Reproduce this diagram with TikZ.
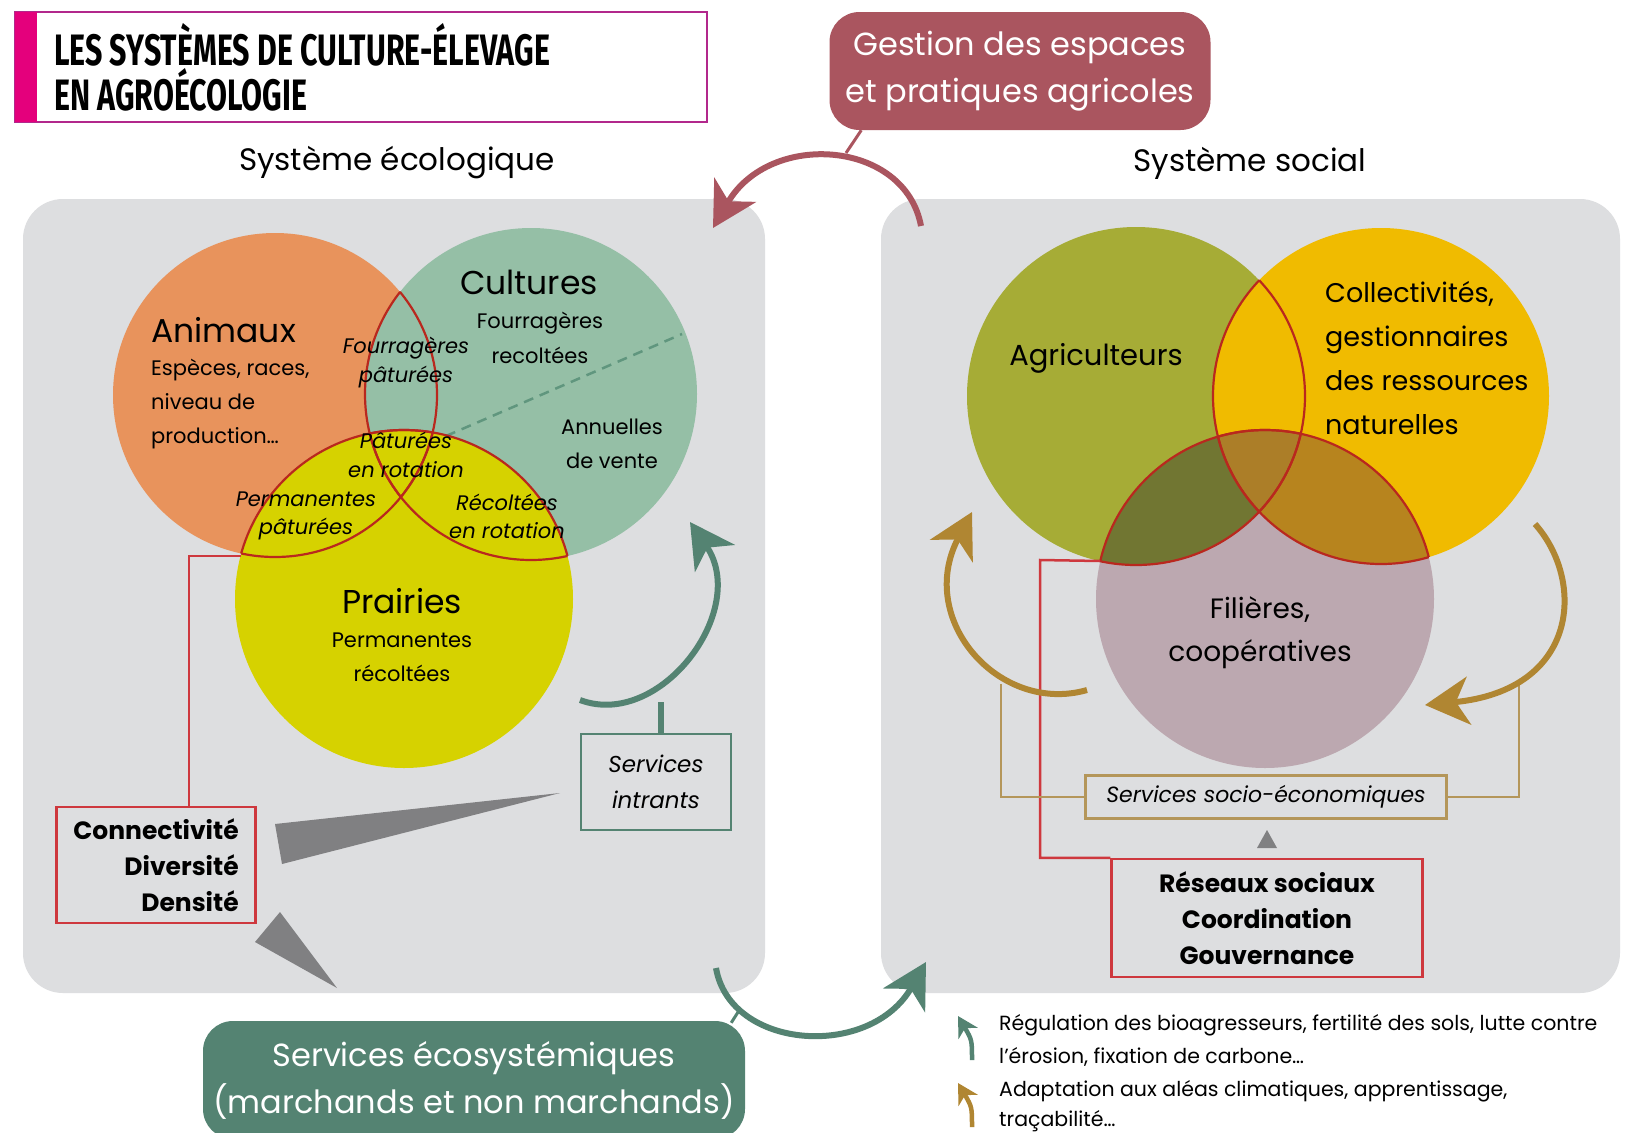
\documentclass[tikz,border=0pt]{standalone}
\usepackage{fontspec}
\setmainfont{Poppins}
\newfontfamily\titlefont[FakeStretch=0.69]{Fira Sans}
\usetikzlibrary{arrows.meta}

\definecolor{panelgray}{RGB}{221,222,224}
\definecolor{animorange}{RGB}{232,147,92}
\definecolor{cultgreen}{RGB}{149,191,166}
\definecolor{cultdash}{RGB}{96,150,126}
\definecolor{prairyellow}{RGB}{214,210,0}
\definecolor{agriolive}{RGB}{166,172,54}
\definecolor{collyellow}{RGB}{240,187,0}
\definecolor{filmauve}{RGB}{188,168,176}
\definecolor{agrifil}{RGB}{113,118,50}
\definecolor{collfil}{RGB}{183,132,30}
\definecolor{troisfil}{RGB}{172,126,40}
\definecolor{vennred}{RGB}{185,40,30}
\definecolor{boxred}{RGB}{206,56,62}
\definecolor{ecoteal}{RGB}{84,131,114}
\definecolor{gestrose}{RGB}{170,85,95}
\definecolor{socgold}{RGB}{176,134,50}
\definecolor{socbox}{RGB}{180,150,90}
\definecolor{wedgegray}{RGB}{128,128,130}
\definecolor{titremag}{RGB}{228,0,124}
\definecolor{titreborder}{RGB}{178,40,140}

\newcommand{\fsz}[2]{\fontsize{#1}{#2}\selectfont}

\tikzset{
  panel/.style={fill=panelgray, rounded corners=40pt},
  vennline/.style={draw=vennred, line width=2.2pt},
  head/.style={font=\fsz{33}{40}, inner sep=0pt},
  txt/.style={font=\fsz{21}{34}, inner sep=0pt, align=center},
  ital/.style={font=\fsz{21}{29}\itshape, inner sep=0pt, align=center},
  soustitre/.style={font=\fsz{31}{36}, inner sep=0pt},
  bubble/.style={rounded corners=30pt, text=white, font=\fsz{32}{47}, align=center, inner sep=0pt},
  redbox/.style={draw=boxred, line width=2.5pt, fill=panelgray, inner sep=0pt},
  bigarrow/.style={line width=6pt, -{Stealth[length=44pt, width=48pt, inset=13pt]}},
  smallarrow/.style={line width=4.5pt, -{Stealth[length=20pt, width=22pt, inset=6pt]}},
}

\begin{document}
\begin{tikzpicture}[x=1pt, y=-1pt]
  \useasboundingbox (0,0) rectangle (1626,1133);
  \clip (0,0) rectangle (1626,1133);
  \fill[white] (0,0) rectangle (1626,1133);

  % titre
  \draw[titreborder, line width=2pt, fill=white] (15,12) rectangle (707,122);
  \fill[titremag] (15,12) rectangle (37,122);
  \node[anchor=west, align=left, inner sep=0pt, font=\titlefont\bfseries\fsz{44}{45}] (titre) at (54,67)
    {LES SYSTÈMES DE CULTURE-ÉLEVAGE\\EN AGROÉCOLOGIE};

  % panneaux
  \fill[panel] (23,199) rectangle (765,993);
  \fill[panel] (881,199) rectangle (1620,993);
  \node[soustitre] (syseco) at (397,163) {Système écologique};
  \node[soustitre] (syssoc) at (1250,163) {Système social};

  % systeme ecologique
  \coordinate (anim) at (275,395);
  \coordinate (cult) at (531,394);
  \coordinate (prai) at (404,599);
  \fill[animorange] (anim) circle (162pt);
  \fill[cultgreen] (cult) circle (166pt);
  \coordinate (dash-a) at (446,436);
  \coordinate (dash-b) at (682,334);
  \draw[cultdash, line width=2.5pt, dash pattern=on 10pt off 7pt] (dash-a) -- (dash-b);
  \fill[prairyellow] (prai) circle (169pt);
  \foreach \a/\ra/\b/\rb in {anim/162/cult/166, anim/162/prai/169, cult/166/anim/162,
                            cult/166/prai/169, prai/169/anim/162, prai/169/cult/166}{
    \begin{scope}
      \clip (\b) circle (\rb pt);
      \draw[vennline] (\a) circle (\ra pt);
    \end{scope}
  }

  \node[head, anchor=west] (animaux) at (151,330) {Animaux};
  \node[txt, anchor=west, align=left] (especes) at (151,404) {Espèces, races,\\niveau de\\production…};
  \node[head] (cultures) at (529,282) {Cultures};
  \node[txt, font=\fsz{21}{35}] (fourrec) at (540,338) {Fourragères\\recoltées};
  \node[ital] (fourpat) at (406,363) {Fourragères\\pâturées};
  \node[txt] (annuelles) at (612,444) {Annuelles\\de vente};
  \node[ital] (patrot) at (406,455) {Pâturées\\en rotation};
  \node[ital, font=\fsz{21}{28}\itshape] (permpat) at (306,516) {Permanentes\\pâturées};
  \node[ital, font=\fsz{21}{28}\itshape] (recrot) at (507,516) {Récoltées\\en rotation};
  \node[head] (prairies) at (402,601) {Prairies};
  \node[txt] (permrec) at (402,657) {Permanentes\\récoltées};

  % systeme social
  \coordinate (agri) at (1136,396);
  \coordinate (coll) at (1381,396);
  \coordinate (fil) at (1265,599);
  \fill[agriolive] (agri) circle (169pt);
  \fill[collyellow] (coll) circle (168pt);
  \fill[filmauve] (fil) circle (169pt);
  \begin{scope}
    \clip (fil) circle (169pt);
    \fill[agrifil] (agri) circle (169pt);
    \fill[collfil] (coll) circle (168pt);
    \clip (agri) circle (169pt);
    \fill[troisfil] (coll) circle (168pt);
  \end{scope}
  \foreach \a/\ra/\b/\rb in {agri/169/coll/168, agri/169/fil/169, coll/168/agri/169,
                            coll/168/fil/169, fil/169/agri/169, fil/169/coll/168}{
    \begin{scope}
      \clip (\b) circle (\rb pt);
      \draw[vennline] (\a) circle (\ra pt);
    \end{scope}
  }

  \node[txt, font=\fsz{29}{44}] (agriculteurs) at (1096,358) {Agriculteurs};
  \node[txt, anchor=west, align=left, font=\fsz{27}{44}] (collectivites) at (1325,358)
    {Collectivités,\\gestionnaires\\des ressources\\naturelles};
  \node[txt, font=\fsz{28}{43}] (filieres) at (1260,633) {Filières,\\coopératives};

  % boites
  \node[redbox, minimum width=199pt, minimum height=116pt, align=right,
        font=\fsz{25}{36}\bfseries] (connect) at (156,865) {Connectivité\\Diversité\\Densité};
  \node[redbox, minimum width=311pt, minimum height=118pt, align=center,
        font=\fsz{25}{36}\bfseries] (reseaux) at (1267,918) {Réseaux sociaux\\Coordination\\Gouvernance};
  \node[draw=ecoteal, line width=2.5pt, fill=panelgray, minimum width=150pt, minimum height=96pt,
        inner sep=0pt, align=center, font=\fsz{23}{36}\itshape] (intrants) at (656,782) {Services\\intrants};
  \node[draw=socbox, line width=2.5pt, fill=panelgray, minimum width=361pt, minimum height=43pt,
        inner sep=0pt, font=\fsz{22}{30}\itshape] (socio) at (1266,797) {Services socio-économiques};

  % liens
  \coordinate (permlens) at (241,556);
  \draw[boxred, line width=2.5pt] ([xshift=33pt]connect.north) |- (permlens);
  \coordinate (rcoin) at (1040,560);
  \coordinate (agrilens) at (1100,561);
  \draw[boxred, line width=2.5pt] (reseaux.north west) -| (rcoin) -- (agrilens);
  \coordinate (lgold) at (1001,684);
  \coordinate (rgold) at (1519,680);
  \draw[socbox, line width=2.5pt] (socio.west) -| (lgold);
  \draw[socbox, line width=2.5pt] (socio.east) -| (rgold);

  % triangles
  \fill[wedgegray] (275,824) -- (282,864) -- (560,793) -- cycle;
  \fill[wedgegray] (255,942) -- (280,912) -- (337,988) -- cycle;
  \fill[wedgegray] (1257,848) -- (1277,848) -- (1267,830) -- cycle;

  % bulles
  \node[bubble, fill=gestrose, minimum width=381pt, minimum height=118pt] (gestion) at (1020,71)
    {Gestion des espaces\\et pratiques agricoles};
  \node[bubble, fill=ecoteal, minimum width=542pt, minimum height=118pt] (ecoserv) at (474,1080)
    {Services écosystémiques\\(marchands et non marchands)};

  % fleches
  \coordinate (gest-a) at (921,226);
  \coordinate (gest-b) at (713,228);
  \coordinate (gtail) at (846,153);
  \draw[gestrose, line width=3pt] ([xshift=32pt]gestion.south west) -- (gtail);
  \draw[gestrose, bigarrow] (gest-a) .. controls (905,140) and (770,130) .. (gest-b);

  \coordinate (intr-a) at (580,700);
  \coordinate (intr-b) at (690,522);
  \coordinate (istem) at (661,702);
  \draw[ecoteal, line width=6pt] ([xshift=5pt]intrants.north) -- (istem);
  \draw[ecoteal, bigarrow] (intr-a) .. controls (660,730) and (750,610) .. (intr-b);

  \coordinate (eco-a) at (716,968);
  \coordinate (eco-b) at (926,962);
  \coordinate (etail) at (740,1009);
  \draw[ecoteal, line width=3pt] ([xshift=-14pt,yshift=-2pt]ecoserv.north east) -- (etail);
  \draw[ecoteal, bigarrow] (eco-a) .. controls (730,1050) and (870,1060) .. (eco-b);

  \coordinate (socl-a) at (1087,690);
  \coordinate (socl-b) at (972,512);
  \draw[socgold, bigarrow] (socl-a) .. controls (1000,715) and (915,620) .. (socl-b);
  \coordinate (socr-a) at (1535,524);
  \coordinate (socr-b) at (1425,705);
  \draw[socgold, bigarrow] (socr-a) .. controls (1585,580) and (1580,690) .. (socr-b);

  % legende
  \draw[ecoteal, smallarrow] (972,1060) .. controls (972,1040) .. (958,1016);
  \draw[socgold, smallarrow] (972,1127) .. controls (972,1107) .. (958,1083);
  \node[txt, anchor=west, align=left, font=\fsz{20.5}{33}] (leg1) at (999,1040)
    {Régulation des bioagresseurs, fertilité des sols, lutte contre\\l’érosion, fixation de carbone…};
  \node[txt, anchor=west, align=left, font=\fsz{20.5}{30}] (leg2) at (999,1106)
    {Adaptation aux aléas climatiques, apprentissage,\\traçabilité…};
\end{tikzpicture}
\end{document}
